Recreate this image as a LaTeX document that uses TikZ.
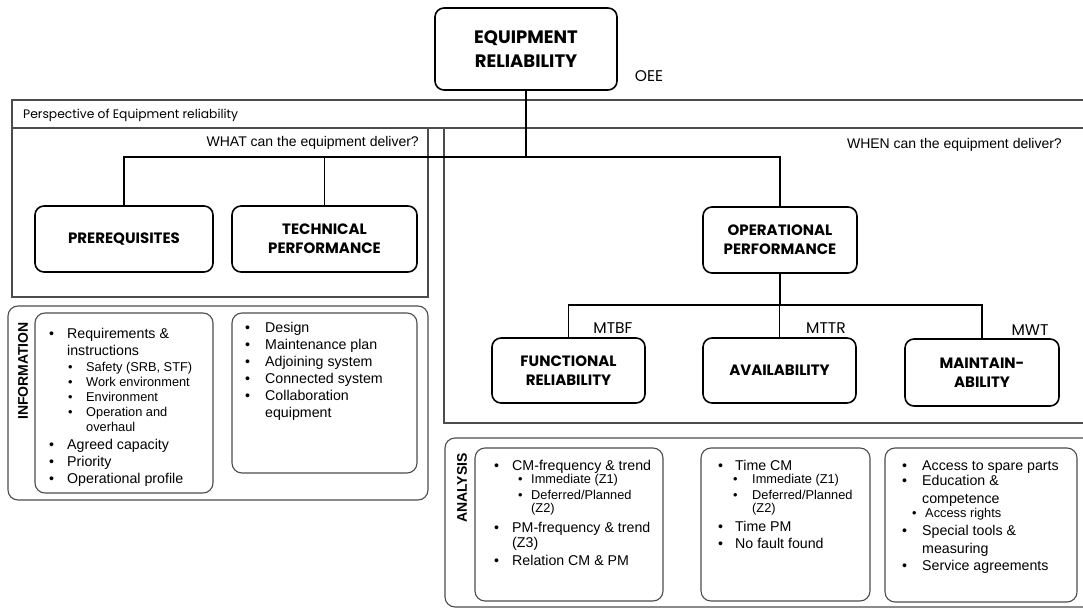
\documentclass[tikz,border=0pt]{standalone}
\usepackage{fontspec}
\setmainfont{Liberation Sans}
\newfontfamily\gothic{Poppins}

\begin{document}
\begin{tikzpicture}[x=1pt, y=-1pt,
	title/.style={draw, line width=1.6pt, rounded corners=9pt, align=center, inner sep=0pt, font=\gothic\bfseries\fontsize{15}{19}\selectfont},
	frame/.style={draw=black!70, line width=1.1pt},
	panel/.style={draw=black!70, line width=1.1pt, rounded corners=10pt},
	link/.style={line width=1.3pt},
	tag/.style={font=\gothic\fontsize{15.5}{17}\selectfont, inner sep=0pt},
	ask/.style={font=\fontsize{14}{16}\selectfont, inner sep=0pt, anchor=east},
	side/.style={font=\bfseries\fontsize{14}{16}\selectfont, rotate=90, inner sep=0pt},
	item/.style={font=\fontsize{14.2}{16}\selectfont, inner sep=0pt, anchor=base west},
	subitem/.style={font=\fontsize{12.8}{14}\selectfont, inner sep=0pt, anchor=base west}]

\useasboundingbox (0,0) rectangle (1083,609);
\clip (0,0) rectangle (1083,609);

\newcommand\blist[6]{
	\foreach \y/\lvl/\txt [count=\i] in {#6} {
		\ifcase\lvl
			\node[item] (#1-\i) at (#3,\y+5) {\txt};
			\node[item] (#1-\i-b) at (#2,\y+5) {\textbullet};
		\or
			\node[item] (#1-\i) at (#3,\y+5) {\txt};
		\or
			\node[subitem] (#1-\i) at (#5,\y+4) {\txt};
			\node[subitem] (#1-\i-b) at (#4,\y+4) {\textbullet};
		\or
			\node[subitem] (#1-\i) at (#5,\y+4) {\txt};
		\fi
	}
}

\draw[frame] (1090,100) -- (12,100) -- (12,297) -- (428,297) -- (428,128);
\draw[frame] (12,128) -- (1090,128);
\draw[frame] (444,128) -- (444,423) -- (1090,423);

\draw[panel] (8,306) rectangle (428,500);
\draw[panel] (35,313) rectangle (213,493);
\draw[panel] (232,313) rectangle (417,473);
\draw[panel] (445,438) rectangle (1100,607);
\draw[panel] (475,448) rectangle (663,601);
\draw[panel] (701,448) rectangle (870,601);
\draw[panel] (885,448) rectangle (1077,602);

\node[title, minimum width=182pt, minimum height=82pt, font=\gothic\bfseries\fontsize{18}{24}\selectfont] (reliab) at (526,49) {EQUIPMENT\\RELIABILITY};
\node[title, minimum width=178pt, minimum height=66pt] (prereq) at (124,239) {PREREQUISITES};
\node[title, minimum width=185pt, minimum height=66pt] (techperf) at (324.5,239) {TECHNICAL\\PERFORMANCE};
\node[title, minimum width=154pt, minimum height=66pt] (opperf) at (780,240) {OPERATIONAL\\PERFORMANCE};
\node[title, minimum width=153pt, minimum height=65pt] (funcrel) at (568.5,370.5) {FUNCTIONAL\\RELIABILITY};
\node[title, minimum width=153pt, minimum height=65pt] (avail) at (779.5,370.5) {AVAILABILITY};
\node[title, minimum width=154pt, minimum height=67pt] (maint) at (982,372.5) {MAINTAIN-\\ABILITY};

\coordinate (hub1) at (526,157);
\coordinate (hub2) at (780,305);

\draw[link] (reliab.south) -- (hub1);
\draw[link] (prereq.north) |- (hub1) -| (opperf.north);
\draw[link] (techperf.north) -- (techperf.north |- hub1);
\draw[link] (opperf.south) -- (hub2);
\draw[link] (funcrel.north) |- (hub2) -| (maint.north);
\draw[link] (avail.north) -- (avail.north |- hub2);

\node[tag] (oee) at (649,76) {OEE};
\node[tag] (mtbf) at (613,328) {MTBF};
\node[tag] (mttr) at (826,328) {MTTR};
\node[tag] (mwt) at (1030,330) {MWT};
\node[tag, anchor=west, font=\gothic\fontsize{12.3}{14}\selectfont] (persp) at (23,115) {Perspective of Equipment reliability};
\node[ask] (what) at (419,143) {WHAT can the equipment deliver?};
\node[ask] (when) at (1062,145) {WHEN can the equipment deliver?};
\node[side] (infolbl) at (23,371) {INFORMATION};
\node[side] (analbl) at (462,488) {ANALYSIS};

\blist{info1}{49}{67}{68}{86}{333/0/{Requirements \&}, 350/1/instructions, 367/2/{Safety (SRB, STF)}, 382/2/{Work environment}, 397/2/Environment, 412/2/{Operation and}, 427/3/overhaul, 444/0/{Agreed capacity}, 461/0/Priority, 478/0/{Operational profile}}
\blist{info2}{245}{265}{265}{285}{327/0/Design, 344/0/{Maintenance plan}, 361/0/{Adjoining system}, 378/0/{Connected system}, 395/0/Collaboration, 412/1/equipment}
\blist{ana1}{494}{512}{518}{531}{465/0/{CM-frequency \& trend}, 479/2/{Immediate (Z1)}, 495/2/{Deferred/Planned}, 508/3/{(Z2)}, 527/0/{PM-frequency \& trend}, 542/1/{(Z3)}, 560/0/{Relation CM \& PM}}
\blist{ana2}{718}{735}{733}{752}{465/0/{Time CM}, 479/2/{Immediate (Z1)}, 495/2/{Deferred/Planned}, 508/3/{(Z2)}, 526/0/{Time PM}, 543/0/{No fault found}}
\blist{ana3}{902}{922}{912}{925}{465/0/{Access to spare parts}, 480/0/{Education \&}, 498/1/competence, 513/2/{Access rights}, 530/0/{Special tools \&}, 548/1/measuring, 565/0/{Service agreements}}

\end{tikzpicture}
\end{document}
